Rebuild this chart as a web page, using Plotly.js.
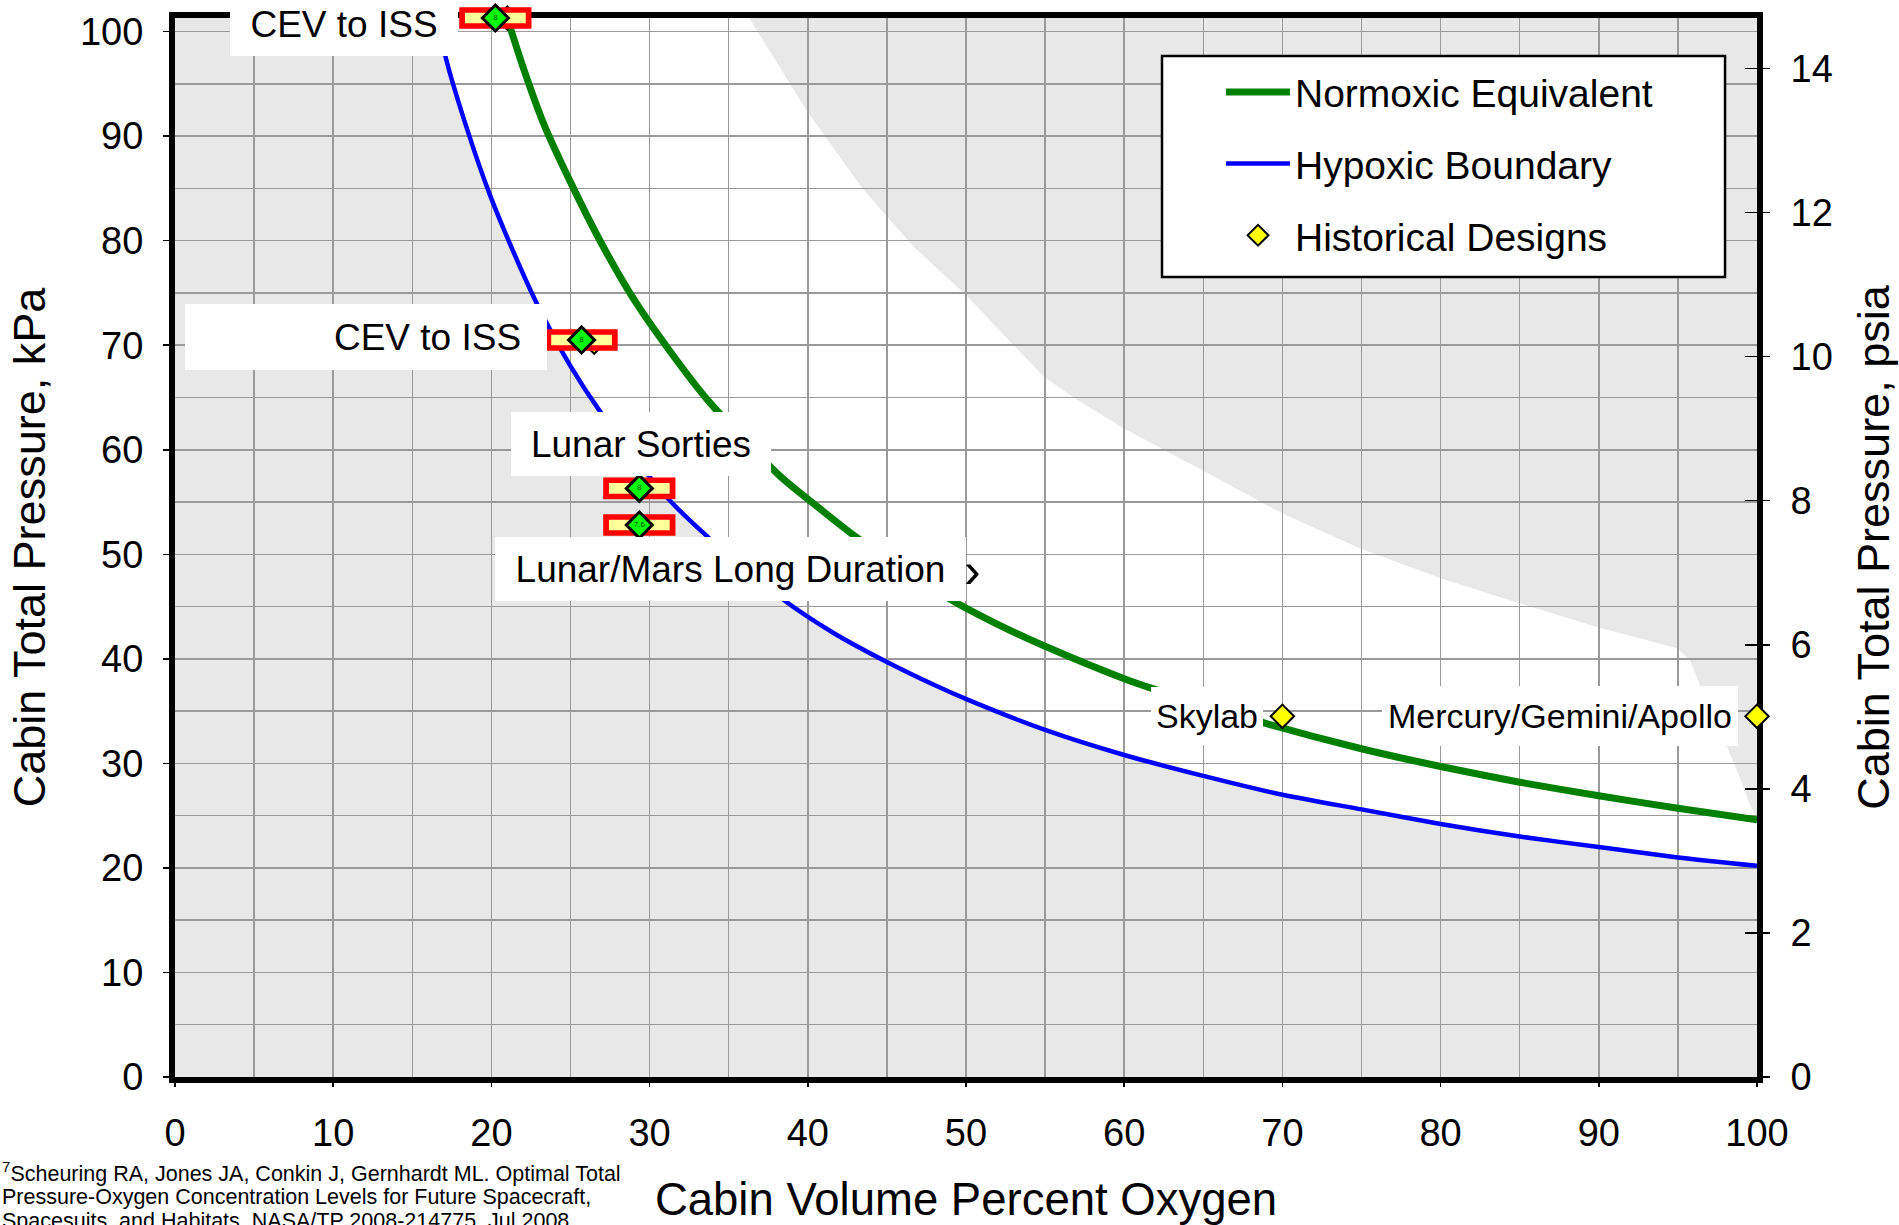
<!DOCTYPE html>
<html>
<head>
<meta charset="utf-8">
<script src="https://cdn.plot.ly/plotly-3.0.1.min.js"></script>
<style>
html, body { margin: 0; padding: 0; background: #ffffff; }
#chart { width: 1899px; height: 1225px; }
</style>
</head>
<body>
<div id="chart"></div>
<script>
// ---------------- data ----------------
// Normoxic Equivalent curve: cabin % O2 vs cabin total pressure (kPa)
const normoxicO2  = [21.0, 22.0, 23.3, 25.0, 26.9, 29.0, 31.3, 33.7, 38.3, 40.4, 43.1, 49.0, 52.0, 55.0, 60.0, 61.9, 69.0, 75.0, 80.0, 85.0, 90.0, 95.0, 100];
const normoxicKPa = [101.3, 96.6, 91.2, 85.6, 79.9, 74.4, 69.4, 64.7, 57.4, 54.8, 51.6, 45.7, 43.3, 41.2, 38.1, 37.1, 33.8, 31.4, 29.7, 28.2, 26.9, 25.7, 24.6];

// Hypoxic Boundary curve
const hypoxicO2  = [16.6, 17.1, 18.5, 19.9, 21.4, 22.9, 25.0, 26.9, 31.0, 33.8, 38.5, 41.6, 45.0, 48.0, 50.1, 55.0, 60.0, 65.0, 70.0, 75.0, 80.0, 85.0, 90.0, 95.0, 100];
const hypoxicKPa = [101.3, 97.6, 90.5, 84.4, 78.9, 73.9, 68.0, 63.6, 55.6, 51.5, 45.6, 42.5, 39.7, 37.5, 36.1, 33.2, 30.8, 28.8, 27.0, 25.6, 24.2, 23.0, 22.0, 21.0, 20.2];

// Upper limit of the recommended (white) region
const limitO2  = [36.3, 39.9, 43.5, 46.7, 50.0, 54.9, 56.8, 60.0, 65.0, 70.0, 75.0, 80.0, 85.0, 90.0, 95.0, 95.8, 96.4, 97.2, 98.1, 98.9, 99.5, 100];
const limitKPa = [101.3, 92.5, 84.9, 79.4, 74.8, 67.0, 65.0, 62.0, 58.0, 53.9, 50.5, 47.7, 45.3, 43.0, 41.0, 39.8, 37.4, 34.5, 31.6, 28.7, 26.2, 24.8];

// Historical designs (yellow diamonds)
const histO2    = [70, 100, 21.0, 26.5];
const histKPa   = [34.5, 34.5, 101.3, 70.3];
const histNames = ['Skylab', 'Mercury/Gemini/Apollo', 'CEV to ISS', 'CEV to ISS'];

// Proposed exploration atmospheres (green diamonds in red boxes)
const exploreO2    = [20.25, 25.7, 29.35, 29.35];
const exploreKPa   = [101.3, 70.5, 56.3, 52.8];
const exploreTags  = ['8', '8', '8', '7.6'];
const exploreNames = ['CEV to ISS', 'CEV to ISS', 'Lunar Sorties', 'Lunar/Mars Long Duration'];
const trailingMark = '\u203A';

// Axis ticks
const o2Ticks      = [0, 10, 20, 30, 40, 50, 60, 70, 80, 90, 100];
const o2Minor      = [5, 15, 25, 35, 45, 55, 65, 75, 85, 95];
const kpaTicks     = [0, 10, 20, 30, 40, 50, 60, 70, 80, 90, 100];
const kpaMinor     = [5, 15, 25, 35, 45, 55, 65, 75, 85, 95];
const psiaTicks    = [0, 2, 4, 6, 8, 10, 12, 14];

// ---------------- styling ----------------
const FONT = 'Liberation Sans, Arial, sans-serif';
const GRID = '#9a9a9a';

function pathFrom(xs, ys) {
  return xs.map((x, i) => (i ? 'L' : 'M') + x + ',' + ys[i]).join(' ') + ' Z';
}
const regionPath = pathFrom(
  hypoxicO2.concat(limitO2.slice().reverse()),
  hypoxicKPa.concat(limitKPa.slice().reverse())
);

const traces = [
  {
    x: normoxicO2, y: normoxicKPa, type: 'scatter', mode: 'lines',
    name: 'Normoxic Equivalent', legendgroup: 'a', legendrank: 1,
    line: {color: '#008000', width: 7, shape: 'spline', smoothing: 0.7},
    hoverinfo: 'skip'
  },
  {
    x: hypoxicO2, y: hypoxicKPa, type: 'scatter', mode: 'lines',
    name: 'Hypoxic Boundary', legendgroup: 'b', legendrank: 2,
    line: {color: '#0000ff', width: 4.5, shape: 'spline', smoothing: 0.7},
    hoverinfo: 'skip'
  },
  {
    x: histO2, y: histKPa, type: 'scatter', mode: 'markers',
    name: 'Historical Designs', legendgroup: 'c', legendrank: 3,
    marker: {symbol: 'diamond', size: 18, color: '#ffff00', line: {color: '#000000', width: 2}},
    cliponaxis: false, hoverinfo: 'skip'
  },
  {
    x: exploreO2, y: exploreKPa, type: 'scatter', mode: 'markers', showlegend: false,
    marker: {symbol: 'line-ew', size: 51.6, line: {color: '#ff0000', width: 21.7}},
    cliponaxis: false, hoverinfo: 'skip'
  },
  {
    x: exploreO2, y: exploreKPa, type: 'scatter', mode: 'markers', showlegend: false,
    marker: {symbol: 'line-ew', size: 43.4, line: {color: '#ffff99', width: 10.7}},
    cliponaxis: false, hoverinfo: 'skip'
  },
  {
    x: exploreO2, y: exploreKPa, type: 'scatter', mode: 'markers+text', showlegend: false,
    text: exploreTags, textposition: 'middle center',
    textfont: {family: FONT, size: 8, color: '#005000'},
    marker: {symbol: 'diamond', size: 20, color: '#00ff00', line: {color: '#000000', width: 3}},
    cliponaxis: false, hoverinfo: 'skip'
  },
  {x: [], y: [], yaxis: 'y2', type: 'scatter', mode: 'markers', showlegend: false, hoverinfo: 'skip'},
  {x: [], y: [], yaxis: 'y3', type: 'scatter', mode: 'markers', showlegend: false, hoverinfo: 'skip'}
];

const labelFont = {family: FONT, size: 37, color: '#000000'};
const smallLabelFont = {family: FONT, size: 34, color: '#000000'};
const footFont = {family: FONT, size: 21.5, color: '#000000'};
const boxBase = {xref: 'x', yref: 'y', showarrow: false, bgcolor: '#ffffff', borderwidth: 0, borderpad: 0};

const annotations = [
  Object.assign({}, boxBase, {
    x: exploreO2[0], y: exploreKPa[0], text: exploreNames[0], font: labelFont,
    xanchor: 'right', yanchor: 'middle', xshift: -37, yshift: -6, width: 228, height: 64, align: 'center'
  }),
  Object.assign({}, boxBase, {
    x: exploreO2[1], y: exploreKPa[1], text: exploreNames[1] + '\u2002\u2009', font: labelFont,
    xanchor: 'right', yanchor: 'middle', xshift: -35, yshift: 3, width: 362, height: 66, align: 'right'
  }),
  Object.assign({}, boxBase, {
    x: exploreO2[2], y: exploreKPa[2], text: exploreNames[2], font: labelFont,
    xanchor: 'left', yanchor: 'bottom', xshift: -128, yshift: 12, width: 260, height: 64, align: 'center'
  }),
  Object.assign({}, boxBase, {
    x: exploreO2[3], y: exploreKPa[3], text: exploreNames[3], font: labelFont,
    xanchor: 'left', yanchor: 'top', xshift: -144, yshift: -12, width: 471, height: 64, align: 'center'
  }),
  {xref: 'x', yref: 'y', showarrow: false, x: exploreO2[3], y: exploreKPa[3], text: trailingMark,
   font: {family: FONT, size: 50, color: '#000'}, xanchor: 'left', yanchor: 'middle', xshift: 325, yshift: -45,
   borderpad: 0, borderwidth: 0},
  Object.assign({}, boxBase, {
    x: histO2[0], y: histKPa[0], text: histNames[0], font: smallLabelFont,
    xanchor: 'right', yanchor: 'middle', xshift: -19, width: 112, height: 58, align: 'center'
  }),
  Object.assign({}, boxBase, {
    x: histO2[1], y: histKPa[1], text: histNames[1], font: smallLabelFont,
    xanchor: 'right', yanchor: 'middle', xshift: -19, width: 356, height: 60, align: 'center'
  }),
  // footnote
  {xref: 'paper', yref: 'paper', x: -0.1106, y: -0.0897, xanchor: 'left', yanchor: 'middle', showarrow: false,
   text: '<sup>7</sup>Scheuring RA, Jones JA, Conkin J, Gernhardt ML. Optimal Total', font: footFont},
  {xref: 'paper', yref: 'paper', x: -0.1106, y: -0.1133, xanchor: 'left', yanchor: 'middle', showarrow: false,
   text: 'Pressure-Oxygen Concentration Levels for Future Spacecraft,', font: footFont},
  {xref: 'paper', yref: 'paper', x: -0.1106, y: -0.1360, xanchor: 'left', yanchor: 'middle', showarrow: false,
   text: 'Spacesuits, and Habitats. NASA/TP 2008-214775. Jul 2008.', font: footFont}
];

const shapes = [
  {type: 'path', xref: 'x', yref: 'y', path: regionPath, fillcolor: '#ffffff', line: {width: 0}, layer: 'below'},
  {type: 'rect', xref: 'paper', yref: 'paper', x0: 0.6239, x1: 0.9798, y0: 0.7554, y1: 0.9641,
   fillcolor: '#ffffff', line: {color: '#000000', width: 2.5}, layer: 'above'}
];

const axisCommon = {
  showline: true, linewidth: 6, linecolor: '#000000', mirror: true,
  zeroline: false, fixedrange: true, layer: 'below traces',
  tickcolor: '#000000', tickwidth: 1.5, tickfont: {family: FONT, size: 38, color: '#000'},
  showgrid: true, gridcolor: GRID, gridwidth: 1.5
};

const layout = {
  width: 1899, height: 1225,
  margin: {l: 175, r: 142, t: 18, b: 148, pad: 0},
  paper_bgcolor: '#ffffff', plot_bgcolor: '#e8e8e8',
  font: {family: FONT, size: 38, color: '#000000'},
  showlegend: true,
  legend: {
    x: 0.6612, y: 0.9603, xanchor: 'left', yanchor: 'top',
    bgcolor: 'rgba(0,0,0,0)', borderwidth: 0,
    font: {family: FONT, size: 39, color: '#000'},
    itemwidth: 64, tracegroupgap: 18, traceorder: 'grouped'
  },
  xaxis: Object.assign({}, axisCommon, {
    range: [0, 100], tickmode: 'array', tickvals: o2Ticks,
    ticks: 'outside', ticklen: 4, ticklabelstandoff: 13,
    minor: {tickmode: 'array', tickvals: o2Minor, showgrid: true, gridcolor: GRID, gridwidth: 1.5, ticks: ''},
    title: {text: 'Cabin Volume Percent Oxygen', font: {family: FONT, size: 45.5, color: '#000'}, standoff: 52}
  }),
  yaxis: Object.assign({}, axisCommon, {
    range: [0, 101.3], tickmode: 'array', tickvals: kpaTicks,
    ticks: 'outside', ticklen: 6, ticklabelstandoff: 12,
    minor: {tickmode: 'array', tickvals: kpaMinor, showgrid: true, gridcolor: GRID, gridwidth: 1.5, ticks: ''},
    title: {text: 'Cabin Total Pressure, kPa', font: {family: FONT, size: 45, color: '#000'}, standoff: 22}
  }),
  yaxis2: {
    overlaying: 'y', side: 'right', range: [0, 14.7], tickmode: 'array', tickvals: psiaTicks,
    ticks: 'outside', ticklen: 12, tickwidth: 1.5, tickcolor: '#000', ticklabelstandoff: 13,
    showgrid: false, zeroline: false, showline: false, fixedrange: true, automargin: false,
    tickfont: {family: FONT, size: 38, color: '#000'},
    title: {text: 'Cabin Total Pressure, psia', font: {family: FONT, size: 45, color: '#000'}, standoff: 50}
  },
  yaxis3: {
    overlaying: 'y', side: 'right', range: [0, 14.7], tickmode: 'array', tickvals: psiaTicks,
    ticks: 'inside', ticklen: 12, tickwidth: 1.5, tickcolor: '#000', showticklabels: false,
    showgrid: false, zeroline: false, showline: false, fixedrange: true
  },
  shapes: shapes,
  annotations: annotations,
  hovermode: false
};

Plotly.newPlot('chart', traces, layout, {displayModeBar: false, staticPlot: true});
</script>
</body>
</html>
